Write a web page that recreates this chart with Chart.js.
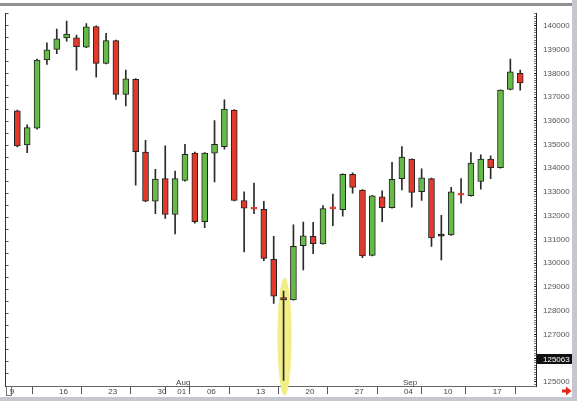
<!DOCTYPE html>
<html>
<head>
<meta charset="utf-8">
<script src="https://cdn.jsdelivr.net/npm/chart.js@4.4.1/dist/chart.umd.min.js"></script>
<style>
    html, body { margin: 0; padding: 0; background: #fff; overflow: hidden; }
    #wrap { position: relative; width: 577px; height: 401px; }
</style>
</head>
<body>
<div id="wrap"><canvas id="cc"></canvas></div>
<script>
/* ── Data (daily OHLC, 10 Jul – 20 Sep) ─────────────────────────────── */
const OPEN  = [136420, 134980, 135690, 138560, 139010, 139490, 139500, 139100, 139970, 138420,
               139380, 137110, 137750, 134680, 132610, 133560, 132050, 133490, 134640, 131750,
               134640, 134910, 136450, 132640, 132310, 132270, 130160, 128550, 128450, 130740,
               131130, 130810, 132310, 132250, 133740, 133080, 130330, 132800, 132340, 133560,
               134390, 133010, 133560, 131140, 131190, 132900, 132840, 133440, 134390, 134020,
               137320, 138000];
const HIGH  = [136450, 135830, 138600, 139280, 139860, 140200, 139610, 140100, 140000, 139680,
               139400, 138140, 137780, 135180, 133950, 134940, 133880, 135010, 134680, 134660,
               136010, 136880, 136470, 133010, 133370, 132610, 131130, 128820, 131610, 131730,
               131720, 132430, 132910, 133760, 133810, 133100, 132860, 133050, 134250, 134910,
               134400, 133970, 133580, 132020, 133190, 133560, 134660, 134560, 134520, 137300,
               138600, 138140];
const LOW   = [134900, 134660, 135650, 138370, 138830, 139350, 138130, 139080, 137840, 138400,
               136900, 136630, 133290, 132590, 132090, 131880, 131230, 133450, 131680, 131500,
               133420, 134800, 132620, 130470, 132090, 130100, 128300, 125063, 128440, 129710,
               130400, 130800, 131580, 131980, 132950, 130230, 130300, 131750, 132320, 133090,
               132360, 132640, 130710, 130140, 131170, 132530, 132820, 133120, 133560, 134000,
               137300, 137290];
const CLOSE = [134940, 135710, 138560, 138990, 139450, 139650, 139120, 139960, 138420, 139380,
               137110, 137770, 134700, 132610, 133540, 132050, 133560, 134590, 131750, 134640,
               135010, 136490, 132640, 132320, 132280, 130200, 128610, 128450, 130710, 131150,
               130820, 132300, 132290, 133740, 133190, 130300, 132840, 132340, 133530, 134470,
               132980, 133600, 131060, 131140, 133010, 132870, 134220, 134390, 134020, 137290,
               138060, 137590];

/* ── Axis labels ────────────────────────────────────────────────────── */
const TICK_IDX   = [-1, 4, 9, 14, 16, 19, 24, 29, 34, 39, 43, 48];
const TICK_TEXT  = ['9', '16', '23', '30', '01', '06', '13', '20', '27', '04', '10', '17'];
const MONTH_IDX  = [16, 39];
const MONTH_TEXT = ['Aug', 'Sep'];

/* ── Annotations ────────────────────────────────────────────────────── */
const HILITE_IDX  = 27;
const HILITE_LOW  = 124420;
const HILITE_HIGH = 129380;
const CURSOR_VAL  = 125960;
const CURSOR_TEXT = '125063';

const UP = '#66bb48', DN = '#e2392b', FLAT = '#1a1a1a', INK = '#222';
const FONT = "'Liberation Sans', Arial, sans-serif";

const bodyColor = i => CLOSE[i] > OPEN[i] ? UP : CLOSE[i] < OPEN[i] ? DN : FLAT;

/* ── Decorations plugin ─────────────────────────────────────────────── */
const deco = {
    id: 'deco',
    beforeDraw(chart) {
        const c = chart.ctx;
        c.save();
        // little corner box at bottom-left
        c.strokeStyle = '#777';
        c.lineWidth = 1;
        c.strokeRect(6.5, 386.5, 5, 9);
        c.restore();
    },
    beforeDatasetsDraw(chart) {
        const { ctx: c, scales: { x, y } } = chart;
        const cx = x.getPixelForValue(HILITE_IDX) + 1;
        const rx = (x.getPixelForValue(1) - x.getPixelForValue(0)) * 0.72;
        const top = y.getPixelForValue(HILITE_HIGH), bot = y.getPixelForValue(HILITE_LOW);
        c.save();
        c.fillStyle = '#f1ee86';
        c.beginPath();
        c.ellipse(cx, (top + bot) / 2, rx, (bot - top) / 2, 0, 0, Math.PI * 2);
        c.fill();
        c.restore();
    },
    afterDraw(chart) {
        const { ctx: c, scales: { x, y }, chartArea: ca } = chart;
        c.save();
        // month names sit just above the time axis
        c.font = '8px ' + FONT;
        c.fillStyle = '#444';
        c.textBaseline = 'alphabetic';
        MONTH_IDX.forEach((m, i) => c.fillText(MONTH_TEXT[i], x.getPixelForValue(m) + 1, ca.bottom - 1));

        // cursor value box on the price axis
        const py = Math.round(y.getPixelForValue(CURSOR_VAL));
        c.fillStyle = '#111';
        c.fillRect(ca.right + 1, py - 5, 35, 10);
        c.fillStyle = '#fff';
        c.textBaseline = 'middle';
        c.fillText(CURSOR_TEXT, ca.right + 7, py + 0.5);

        // frame
        c.fillStyle = '#8f8f8f';
        c.fillRect(0, 3, 572, 3);
        c.fillStyle = '#c6c6d0';
        c.fillRect(572, 0, 5, 401);
        c.fillRect(0, 397, 577, 4);

        // red arrow bottom-right
        c.fillStyle = '#e4261c';
        c.beginPath();
        c.moveTo(562, 389.5); c.lineTo(566, 389.5); c.lineTo(566, 386.5);
        c.lineTo(571.5, 391);
        c.lineTo(566, 395.5); c.lineTo(566, 392.5); c.lineTo(562, 392.5);
        c.closePath();
        c.fill();
        c.restore();
    },
};

/* ── Candles (floating bars: wick + body) ───────────────────────────── */
function bCandles() {
    const idx = OPEN.map((_, i) => i);
    new Chart(document.getElementById('cc'), {
        type: 'bar',
        data: {
            datasets: [{
                label: 'body',
                data: idx.map(i => ({ x: i, y: [OPEN[i], CLOSE[i]] })),
                backgroundColor: c => bodyColor(c.dataIndex),
                borderColor: c => Math.abs(CLOSE[c.dataIndex] - OPEN[c.dataIndex]) < 60 && CLOSE[c.dataIndex] !== OPEN[c.dataIndex]
                    ? bodyColor(c.dataIndex) : INK,
                borderWidth: 1,
                borderSkipped: false,
                barThickness: 6,
                minBarLength: 2,
                grouped: false,
                order: 0,
            }, {
                label: 'wick',
                data: idx.map(i => ({ x: i, y: [LOW[i], HIGH[i]] })),
                backgroundColor: '#2a2a2a',
                borderWidth: 0,
                barThickness: 1,
                grouped: false,
                order: 1,
            }],
        },
        options: {
            responsive: true,
            maintainAspectRatio: false,
            animation: false,
            layout: { padding: { left: 5.5, right: 5, top: 6, bottom: 4 } },
            plugins: { legend: { display: false }, tooltip: { enabled: false } },
            scales: {
                x: {
                    type: 'linear',
                    position: 'bottom',
                    min: -1.2, max: 52.6,
                    offset: false,
                    afterBuildTicks: s => { s.ticks = TICK_IDX.map(v => ({ value: v })); },
                    afterFit: s => { s.height = 11; },
                    grid: { drawOnChartArea: false, tickLength: 8, color: '#555', tickColor: '#555' },
                    border: { display: true, color: '#666', width: 1 },
                    ticks: {
                        autoSkip: false, maxRotation: 0, align: 'start', padding: -7,
                        font: { family: FONT, size: 8 }, color: '#444',
                        callback: (v, i) => ' ' + TICK_TEXT[i],
                    },
                },
                y: {
                    position: 'right',
                    min: 124823, max: 140508,
                    afterFit: s => { s.width = 36; },
                    grid: { drawOnChartArea: false, tickLength: -2, tickColor: c => c.tick && c.tick.value % 1000 === 0 ? '#222' : '#777' },
                    border: { display: true, color: '#222', width: 1 },
                    ticks: {
                        stepSize: 100, autoSkip: false, includeBounds: false, padding: 9,
                        font: { family: FONT, size: 8 }, color: '#555',
                        callback: v => v % 1000 === 0 ? String(v) : '',
                    },
                },
                yl: {
                    position: 'left',
                    min: 124823, max: 140508,
                    afterFit: s => { s.width = 0; },
                    grid: { drawOnChartArea: false, tickLength: -3, tickColor: '#555' },
                    border: { display: true, color: '#333', width: 1 },
                    ticks: { display: false, stepSize: 500, autoSkip: false, includeBounds: false },
                },
            },
        },
        plugins: [deco],
    });
}

document.fonts.ready.then(bCandles);
</script>
</body>
</html>
